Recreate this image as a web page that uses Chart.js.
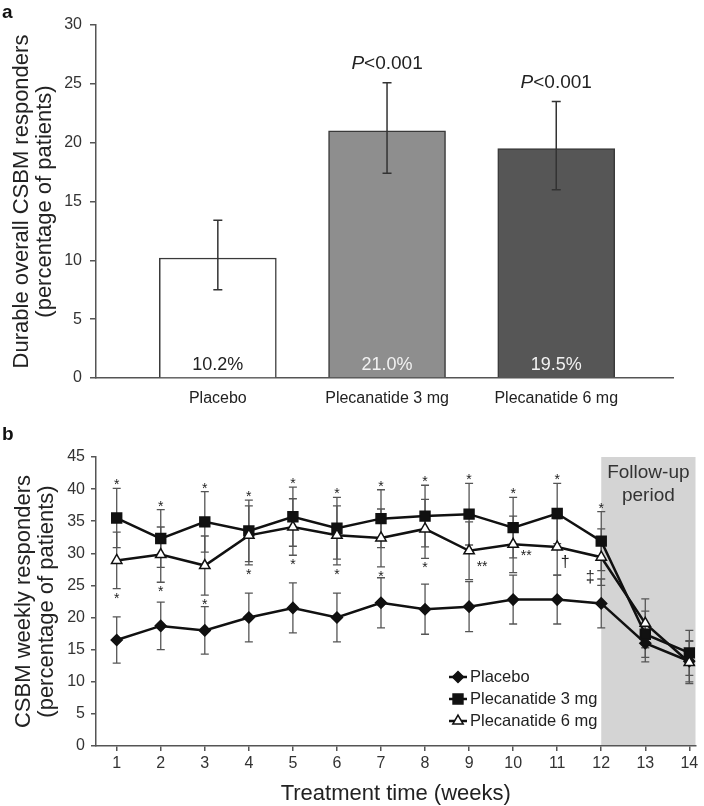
<!DOCTYPE html>
<html>
<head>
<meta charset="utf-8">
<script src="https://cdn.jsdelivr.net/npm/chart.js@4.4.1/dist/chart.umd.min.js"></script>
<style>
  html, body { margin: 0; padding: 0; background: #fff; }
  #wrap { position: relative; width: 704px; height: 806px; overflow: hidden; }
  canvas { position: absolute; left: 0; }
  #chartA { top: 0; }
  #chartB { top: 405px; }
  .tag { position: absolute; left: 2px; font: bold 19px "Liberation Sans", Arial, sans-serif; color: #111; }
</style>
</head>
<body>
<div id="wrap">
  <canvas id="chartA" width="704" height="410"></canvas>
  <canvas id="chartB" width="704" height="401"></canvas>
  <div class="tag" style="top:1px">a</div>
  <div class="tag" style="top:423px">b</div>
</div>
<script>
// panel a: durable overall responders
const categories = ['Placebo', 'Plecanatide 3 mg', 'Plecanatide 6 mg'];
const responders = [10.2, 21.0, 19.5];
const respLow = [7.5, 17.4, 16.0];
const respHigh = [13.4, 25.1, 23.5];
const barLabels = ['10.2%', '21.0%', '19.5%'];
const pLabels = ['', 'P<0.001', 'P<0.001'];

// panel b: weekly responders
const weeks = [1, 2, 3, 4, 5, 6, 7, 8, 9, 10, 11, 12, 13, 14];
const placebo = [16.5, 18.7, 18.0, 20.0, 21.5, 20.0, 22.3, 21.3, 21.7, 22.8, 22.8, 22.2, 16.0, 13.2];
const pleca3 = [35.5, 32.3, 34.9, 33.5, 35.7, 33.9, 35.4, 35.8, 36.1, 34.0, 36.2, 31.9, 17.4, 14.5];
const pleca6 = [28.9, 29.8, 28.1, 32.8, 34.1, 32.8, 32.4, 33.8, 30.4, 31.4, 31.0, 29.4, 19.1, 13.0];
const errPlacebo = [3.6, 3.7, 3.7, 3.8, 3.9, 3.8, 3.9, 3.9, 3.9, 3.8, 3.8, 3.8, 2.9, 3.2];
const err3 = [4.6, 4.5, 4.7, 4.8, 4.6, 4.8, 4.5, 4.8, 4.8, 4.7, 4.7, 4.6, 3.6, 3.5];
const err6 = [4.4, 4.3, 4.6, 4.6, 4.4, 4.6, 4.5, 4.6, 4.5, 4.4, 4.4, 4.4, 3.8, 3.3];
const sigTop = ['*', '*', '*', '*', '*', '*', '*', '*', '*', '*', '*', '*', '', ''];
const sigBottom = ['*', '*', '*', '*', '*', '*', '*', '*', '**', '**', '†', '‡', '', ''];

const FONT = '"Liberation Sans", Arial, Helvetica, sans-serif';
Chart.defaults.font.family = FONT;
Chart.defaults.color = '#222';

function drawMarker(ctx, style, x, y, r, fill) {
  ctx.save();
  ctx.fillStyle = fill;
  ctx.strokeStyle = '#111';
  ctx.lineWidth = 1.5;
  ctx.beginPath();
  if (style === 'rectRot') {
    ctx.moveTo(x, y - r); ctx.lineTo(x + r, y); ctx.lineTo(x, y + r); ctx.lineTo(x - r, y);
  } else if (style === 'rect') {
    const s = r * Math.SQRT1_2;
    ctx.rect(x - s, y - s, 2 * s, 2 * s);
  } else {
    const h = r * 1.5, side = h * 2 / Math.sqrt(3);
    ctx.moveTo(x, y - h * 2 / 3); ctx.lineTo(x + side / 2, y + h / 3); ctx.lineTo(x - side / 2, y + h / 3);
  }
  ctx.closePath();
  ctx.fill();
  ctx.stroke();
  ctx.restore();
}

// error bars and labels for panel a
const barExtras = {
  id: 'barExtras',
  afterDatasetsDraw(chart) {
    const {ctx, scales: {x, y}} = chart;
    ctx.save();
    ctx.strokeStyle = '#333';
    ctx.lineWidth = 1.5;
    categories.forEach((c, i) => {
      const px = x.getPixelForValue(i);
      const top = y.getPixelForValue(respHigh[i]);
      const bot = y.getPixelForValue(respLow[i]);
      ctx.beginPath();
      ctx.moveTo(px, top); ctx.lineTo(px, bot);
      ctx.moveTo(px - 4.5, top); ctx.lineTo(px + 4.5, top);
      ctx.moveTo(px - 4.5, bot); ctx.lineTo(px + 4.5, bot);
      ctx.stroke();
    });
    ctx.textAlign = 'center';
    ctx.textBaseline = 'middle';
    ctx.font = '18px ' + FONT;
    const textCols = ['#222', '#f2f2f2', '#f2f2f2'];
    barLabels.forEach((t, i) => {
      ctx.fillStyle = textCols[i];
      ctx.fillText(t, x.getPixelForValue(i), y.getPixelForValue(0) - 13);
    });
    ctx.fillStyle = '#222';
    ctx.textAlign = 'left';
    pLabels.forEach((t, i) => {
      if (!t) return;
      const cx = x.getPixelForValue(i);
      const cy = y.getPixelForValue(respHigh[i]) - 19;
      const it = 'italic 19px ' + FONT, nm = '19px ' + FONT;
      ctx.font = it; const w1 = ctx.measureText(t[0]).width;
      ctx.font = nm; const w2 = ctx.measureText(t.slice(1)).width;
      const sx = cx - (w1 + w2) / 2;
      ctx.font = it; ctx.fillText(t[0], sx, cy);
      ctx.font = nm; ctx.fillText(t.slice(1), sx + w1, cy);
    });
    ctx.restore();
  }
};

new Chart(document.getElementById('chartA'), {
  type: 'bar',
  data: {
    datasets: [{
      data: categories.map((c, i) => ({x: i, y: responders[i]})),
      backgroundColor: ['#ffffff', '#8e8e8e', '#565656'],
      borderColor: '#3a3a3a',
      borderWidth: 1.5,
      barThickness: 117
    }]
  },
  options: {
    responsive: false,
    animation: false,
    layout: { padding: { top: 25, right: 31, left: 0, bottom: 0 } },
    plugins: { legend: { display: false }, tooltip: { enabled: false } },
    scales: {
      x: {
        type: 'linear', min: -0.72, max: 2.69, offset: false,
        afterBuildTicks: s => { s.ticks = categories.map((c, i) => ({value: i})); },
        afterFit: s => { s.height = 32; },
        grid: { drawOnChartArea: false, drawTicks: false, offset: false },
        border: { color: '#555', width: 1.5 },
        ticks: { callback: v => categories[v], font: { size: 16 }, color: '#222', padding: 11, maxRotation: 0, autoSkip: false }
      },
      y: {
        min: 0, max: 30,
        afterFit: s => { s.width = 96; },
        grid: { drawOnChartArea: false, tickLength: 6, color: '#555', lineWidth: 1.5 },
        border: { color: '#555', width: 1.5 },
        ticks: { stepSize: 5, font: { size: 16 }, color: '#333', padding: 8 },
        title: {
          display: true,
          text: ['Durable overall CSBM responders', '(percentage of patients)'],
          font: { size: 22, lineHeight: 1.05 },
          color: '#222',
          padding: { top: 10, bottom: 0 }
        }
      }
    }
  },
  plugins: [barExtras]
});

// panel b helpers
const followUp = {
  id: 'followUp',
  beforeDraw(chart) {
    const {ctx, chartArea, scales: {x}} = chart;
    const left = x.getPixelForValue(12);
    ctx.save();
    ctx.fillStyle = '#d4d4d4';
    ctx.fillRect(left, chartArea.top, chartArea.right - left, chartArea.bottom - chartArea.top);
    ctx.fillStyle = '#333';
    ctx.font = '19px ' + FONT;
    ctx.textAlign = 'center';
    ctx.textBaseline = 'middle';
    const cx = (left + chartArea.right) / 2;
    ctx.fillText('Follow-up', cx, chartArea.top + 16);
    ctx.fillText('period', cx, chartArea.top + 39);
    ctx.restore();
  }
};

const errorBarsB = {
  id: 'errorBarsB',
  beforeDatasetsDraw(chart) {
    const {ctx, scales: {x, y}} = chart;
    ctx.save();
    ctx.strokeStyle = '#555';
    ctx.lineWidth = 1.3;
    [[placebo, errPlacebo], [pleca3, err3], [pleca6, err6]].forEach(([vals, errs]) => {
      weeks.forEach((w, i) => {
        const px = x.getPixelForValue(w);
        const top = y.getPixelForValue(vals[i] + errs[i]);
        const bot = y.getPixelForValue(vals[i] - errs[i]);
        ctx.beginPath();
        ctx.moveTo(px, top); ctx.lineTo(px, bot);
        ctx.moveTo(px - 4, top); ctx.lineTo(px + 4, top);
        ctx.moveTo(px - 4, bot); ctx.lineTo(px + 4, bot);
        ctx.stroke();
      });
    });
    ctx.restore();
  }
};

const sigMarks = {
  id: 'sigMarks',
  afterDatasetsDraw(chart) {
    const {ctx, scales: {x, y}} = chart;
    ctx.save();
    ctx.fillStyle = '#222';
    ctx.textAlign = 'center';
    ctx.textBaseline = 'alphabetic';
    ctx.font = '14px ' + FONT;
    // star glyph sits high in the em box, so baseline is shifted down
    weeks.forEach((w, i) => {
      const px = x.getPixelForValue(w);
      if (sigTop[i]) {
        ctx.fillText(sigTop[i], px, y.getPixelForValue(pleca3[i] + err3[i]) - 7 + 8);
      }
      if (sigBottom[i]) {
        if (i < 8) {
          ctx.fillText(sigBottom[i], px, y.getPixelForValue(pleca6[i] - err6[i]) + 6 + 8);
        } else {
          const py = y.getPixelForValue(pleca6[i]);
          const shift = {8: [13, 12], 9: [13, 8], 10: [8, 15], 11: [-11, 20]}[i];
          const isDagger = sigBottom[i] === '†' || sigBottom[i] === '‡';
          ctx.font = (isDagger ? '16px ' : '14px ') + FONT;
          ctx.fillText(sigBottom[i], px + shift[0], py + shift[1] + (isDagger ? 5 : 8));
          ctx.font = '14px ' + FONT;
        }
      }
    });
    ctx.restore();
  }
};

const legendB = {
  id: 'legendB',
  afterDatasetsDraw(chart) {
    const {ctx, chartArea} = chart;
    ctx.save();
    ctx.font = '16.5px ' + FONT;
    ctx.textBaseline = 'middle';
    chart.data.datasets.forEach((ds, i) => {
      const y = chartArea.bottom - 69 + i * 22;
      const x0 = chartArea.left + 353;
      ctx.strokeStyle = '#111';
      ctx.lineWidth = 2.5;
      ctx.beginPath(); ctx.moveTo(x0, y); ctx.lineTo(x0 + 18, y); ctx.stroke();
      drawMarker(ctx, ds.pointStyle, x0 + 9, y, ds.pointRadius, ds.pointBackgroundColor);
      ctx.fillStyle = '#222';
      ctx.fillText(ds.label, x0 + 21, y);
    });
    ctx.restore();
  }
};

function series(label, vals, style, radius, fill, order) {
  return {
    label: label,
    data: weeks.map((w, i) => ({x: w, y: vals[i]})),
    borderColor: '#111',
    borderWidth: 2.5,
    pointStyle: style,
    pointRadius: radius,
    pointBackgroundColor: fill,
    pointBorderColor: '#111',
    pointBorderWidth: 1.5,
    tension: 0,
    order: order
  };
}

new Chart(document.getElementById('chartB'), {
  type: 'line',
  data: {
    datasets: [
      series('Placebo', placebo, 'rectRot', 5.5, '#111', 2),
      series('Plecanatide 3 mg', pleca3, 'rect', 7, '#111', 1),
      series('Plecanatide 6 mg', pleca6, 'triangle', 6, '#fff', 0)
    ]
  },
  options: {
    responsive: false,
    animation: false,
    layout: { padding: { top: 52, right: 3, left: 0, bottom: 0 } },
    plugins: { legend: { display: false }, tooltip: { enabled: false } },
    scales: {
      x: {
        type: 'linear', min: 0.53, max: 14.14,
        afterBuildTicks: s => { s.ticks = weeks.map(w => ({value: w})); },
        afterFit: s => { s.height = 60; },
        grid: { drawOnChartArea: false, tickLength: 5, color: '#555', lineWidth: 1.5 },
        border: { color: '#555', width: 1.5 },
        ticks: { font: { size: 16 }, color: '#333', padding: 3, maxRotation: 0, autoSkip: false },
        title: {
          display: true,
          text: 'Treatment time (weeks)',
          font: { size: 22, lineHeight: 1.05 },
          color: '#222',
          padding: { top: 0, bottom: 1 }
        }
      },
      y: {
        min: 0, max: 45,
        afterFit: s => { s.width = 96; },
        grid: { drawOnChartArea: false, tickLength: 5, color: '#555', lineWidth: 1.5 },
        border: { color: '#555', width: 1.5 },
        ticks: { stepSize: 5, font: { size: 16 }, color: '#333', padding: 6 },
        title: {
          display: true,
          text: ['CSBM weekly responders', '(percentage of patients)'],
          font: { size: 22, lineHeight: 1.05 },
          color: '#222',
          padding: { top: 12, bottom: 0 }
        }
      }
    }
  },
  plugins: [followUp, errorBarsB, sigMarks, legendB]
});
</script>
</body>
</html>
